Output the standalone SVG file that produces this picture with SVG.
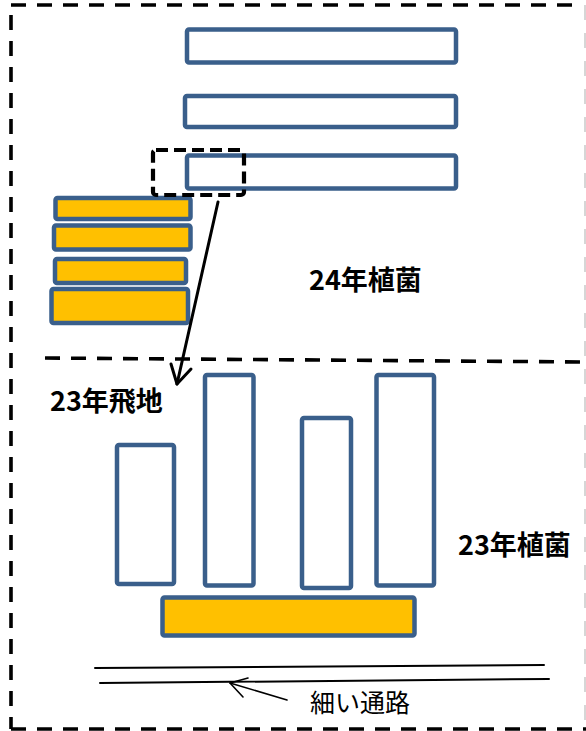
<svg xmlns="http://www.w3.org/2000/svg" width="586" height="731" viewBox="0 0 586 731">
<style>
.blue{fill:#fff;stroke:#3A5F8B;stroke-width:4.5;stroke-linejoin:round}
.orange{fill:#FFC000;stroke:#3A5F8B;stroke-width:4.5;stroke-linejoin:round}
.dash{fill:none;stroke:#000;stroke-width:3.6;stroke-dasharray:15 11}
.lbl{font-family:"Noto Sans CJK JP","Liberation Sans",sans-serif;font-weight:bold;font-size:27px;fill:#000}
.lbl2{font-family:"Noto Sans CJK JP","Liberation Sans",sans-serif;font-size:25px;fill:#000}
.ln{fill:none;stroke:#000;stroke-linecap:round}
</style>
<rect width="586" height="731" fill="#fff"/>
<g id="boundaries">
<line class="dash" x1="11" y1="5" x2="580" y2="5"/>
<line class="dash" x1="11" y1="15" x2="11" y2="729"/>
<line class="dash" x1="11" y1="729" x2="586" y2="729"/>
<line fill="none" stroke="#bbb" stroke-width="1.2" stroke-dasharray="15 13" x1="585" y1="5" x2="585" y2="731"/>
<line class="dash" x1="45" y1="358" x2="586" y2="362"/>
</g>
<g id="field24">
<rect class="blue" x="187" y="29.5" width="269" height="33" rx="2"/>
<rect class="blue" x="185" y="96" width="271" height="31" rx="2"/>
<rect class="blue" x="187" y="155.5" width="269" height="33" rx="2"/>
</g>
<g id="stack24">
<rect class="orange" x="55.5" y="198" width="135" height="21" rx="2"/>
<rect class="orange" x="54" y="225.5" width="136.5" height="24" rx="2"/>
<rect class="orange" x="55" y="259" width="131" height="24" rx="2"/>
<rect class="orange" x="51.5" y="289" width="136.5" height="34" rx="2"/>
</g>
<g id="selection">
<rect x="153" y="150" width="91" height="45" rx="3" fill="none" stroke="#000" stroke-width="4.2" stroke-dasharray="12 6"/>
</g>
<g id="field23">
<rect class="blue" x="117" y="445" width="57" height="139" rx="2"/>
<rect class="blue" x="205" y="375" width="48.5" height="210.5" rx="2"/>
<rect class="blue" x="302" y="418" width="49" height="170" rx="2"/>
<rect class="blue" x="376.5" y="375" width="57.5" height="210.5" rx="2"/>
<rect class="orange" x="162.5" y="597.5" width="252" height="38" rx="2"/>
</g>
<g id="road">
<line class="ln" stroke-width="2" x1="95" y1="668" x2="544" y2="665"/>
<line class="ln" stroke-width="2" x1="100" y1="683" x2="549" y2="679"/>
</g>
<g id="connectors">
<line class="ln" stroke-width="3" x1="218" y1="202" x2="177" y2="384"/>
<polyline class="ln" stroke-width="3" stroke-linejoin="round" points="171,364 177,384 191,369"/>
<line class="ln" stroke-width="1.6" x1="287" y1="700" x2="230" y2="683"/>
<polyline class="ln" stroke-width="1.6" stroke-linejoin="round" points="248,678 230,683 243,697"/>
</g>
<g id="labels">
<text class="lbl" x="309" y="290">24年植菌</text>
<text class="lbl" x="50" y="411">23年飛地</text>
<text class="lbl" x="458" y="555">23年植菌</text>
<text class="lbl2" x="310" y="712">細い通路</text>
</g>
</svg>
